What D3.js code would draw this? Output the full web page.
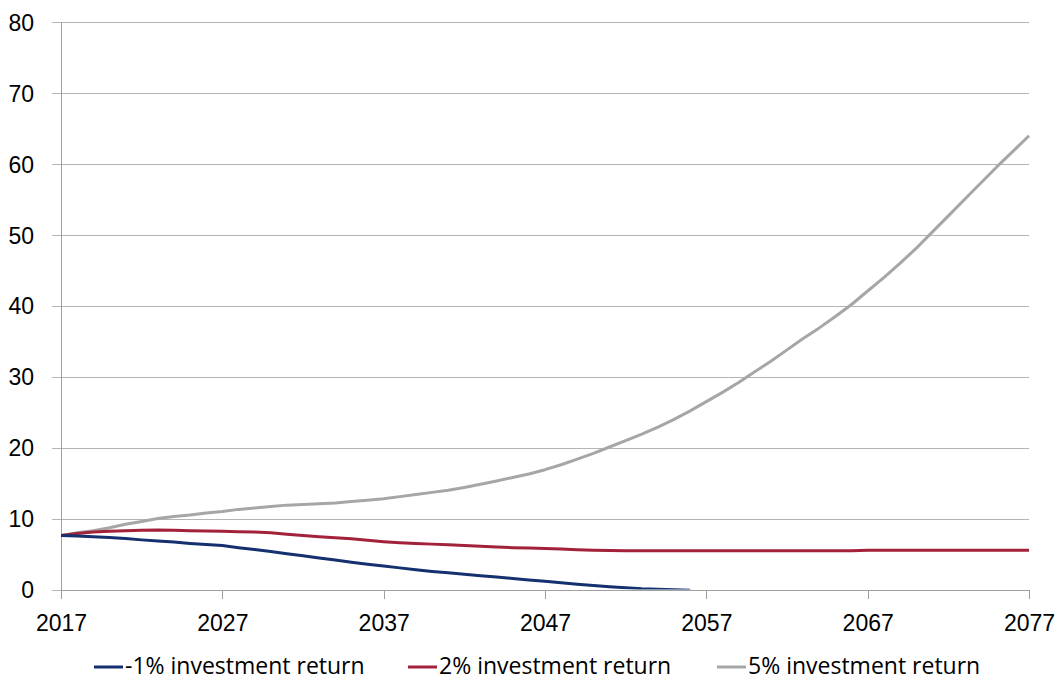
<!DOCTYPE html>
<html>
<head>
<meta charset="utf-8">
<script src="https://cdn.jsdelivr.net/npm/d3@7"></script>
<style>
  html, body { margin: 0; padding: 0; background: #ffffff; }
  svg { display: block; font-family: "Open Sans", "Noto Sans", sans-serif; }
</style>
</head>
<body>
<svg id="chart" width="1062" height="680"></svg>
<script>
// Projected fund balance under three investment-return scenarios, 2017–2077
const years = d3.range(2017, 2078);

const seriesNames = ["-1% investment return", "2% investment return", "5% investment return"];
const seriesColors = ["#14306e", "#a3213a", "#a6a6a6"];

// -1% return: falls steadily, reaching zero in the mid-2050s
const negOne = [
  7.6, 7.55, 7.45, 7.35, 7.2, 7.0, 6.85, 6.7, 6.5, 6.35,
  6.2, 5.9, 5.65, 5.35, 5.05, 4.75, 4.45, 4.15, 3.85, 3.55,
  3.3, 3.05, 2.8, 2.55, 2.35, 2.15, 1.95, 1.75, 1.55, 1.35,
  1.15, 0.95, 0.75, 0.55, 0.4, 0.25, 0.12, 0.05, -0.02, -0.12
];

// 2% return: roughly flat, drifting down to about 5.5
const twoPct = [
  7.6, 7.9, 8.1, 8.2, 8.3, 8.35, 8.4, 8.35, 8.3, 8.25,
  8.2, 8.15, 8.1, 8.0, 7.8, 7.6, 7.45, 7.3, 7.15, 6.95,
  6.75, 6.6, 6.5, 6.4, 6.3, 6.2, 6.1, 6.0, 5.9, 5.85,
  5.8, 5.7, 5.6, 5.55, 5.5, 5.48, 5.45, 5.45, 5.45, 5.45,
  5.45, 5.45, 5.45, 5.45, 5.45, 5.45, 5.45, 5.45, 5.45, 5.45,
  5.55, 5.55, 5.55, 5.55, 5.55, 5.55, 5.55, 5.55, 5.55, 5.55,
  5.55
];

// 5% return: compounding growth to about 64
const fivePct = [
  7.6, 8.0, 8.3, 8.7, 9.2, 9.6, 10.0, 10.3, 10.5, 10.8,
  11.0, 11.3, 11.5, 11.7, 11.9, 12.0, 12.1, 12.2, 12.4, 12.6,
  12.8, 13.1, 13.4, 13.7, 14.0, 14.4, 14.85, 15.3, 15.8, 16.3,
  16.9, 17.6, 18.4, 19.2, 20.1, 21.0, 21.9, 22.9, 24.0, 25.2,
  26.5, 27.8, 29.2, 30.7, 32.2, 33.8, 35.4, 36.9, 38.5, 40.2,
  42.1, 44.0, 46.0, 48.1, 50.4, 52.7, 55.0, 57.3, 59.6, 61.8,
  64.0
];

const xTicks = [2017, 2027, 2037, 2047, 2057, 2067, 2077];
const yTicks = [0, 10, 20, 30, 40, 50, 60, 70, 80];

const seriesValues = [negOne, twoPct, fivePct];

const svg = d3.select("#chart");
const plot = { left: 61, right: 1029, top: 22.3, bottom: 589.5 };

const x = d3.scaleLinear().domain([2017, 2077]).range([plot.left, plot.right]);
const y = d3.scaleLinear().domain([0, 80]).range([plot.bottom, plot.top]);

const gridColor = "#b4b4b4";
const axisColor = "#a0a0a0";
const textColor = "#000000";
const fontSize = "23px";

// Horizontal gridlines, extended left as tick marks
const yAxis = d3.axisLeft(y).tickValues(yTicks).tickSize(-(plot.right - plot.left)).tickSizeOuter(0).tickPadding(0);
const gy = svg.append("g").attr("transform", `translate(${plot.left},0)`).call(yAxis);
gy.select(".domain").remove();
gy.selectAll(".tick line")
  .attr("x1", -9)
  .attr("stroke", gridColor)
  .attr("stroke-width", 1)
  .attr("shape-rendering", "crispEdges");
gy.selectAll(".tick text")
  .attr("x", -27)
  .attr("dy", "0.35em")
  .attr("fill", textColor)
  .style("font-size", fontSize);

// Vertical axis line
svg.append("line")
  .attr("x1", plot.left).attr("x2", plot.left)
  .attr("y1", plot.top).attr("y2", plot.bottom + 9)
  .attr("stroke", axisColor).attr("stroke-width", 1)
  .attr("shape-rendering", "crispEdges");

// Horizontal axis with downward ticks
const xAxis = d3.axisBottom(x).tickValues(xTicks).tickFormat(d3.format("d")).tickSize(9).tickSizeOuter(0).tickPadding(16);
const gx = svg.append("g").attr("transform", `translate(0,${plot.bottom})`).call(xAxis);
gx.select(".domain").attr("stroke", axisColor).attr("shape-rendering", "crispEdges");
gx.selectAll(".tick line").attr("stroke", axisColor).attr("shape-rendering", "crispEdges");
gx.selectAll(".tick text")
  .attr("fill", textColor)
  .style("font-size", fontSize);

// Clip the series to the plotting area
svg.append("clipPath").attr("id", "plot-clip")
  .append("rect")
  .attr("x", plot.left).attr("y", plot.top - 5)
  .attr("width", plot.right - plot.left + 5)
  .attr("height", plot.bottom - plot.top + 5);

const line = d3.line()
  .x((d, i) => x(years[i]))
  .y(d => y(d))
  .curve(d3.curveLinear);

const lines = svg.append("g").attr("clip-path", "url(#plot-clip)");
// grey first, then red, then blue on top where they meet at the start
[2, 1, 0].forEach(k => {
  lines.append("path")
    .datum(seriesValues[k])
    .attr("fill", "none")
    .attr("stroke", seriesColors[k])
    .attr("stroke-width", 3)
    .attr("stroke-linejoin", "round")
    .attr("d", line);
});

// Legend
const legendItems = [
  { name: seriesNames[0], color: seriesColors[0], x0: 94 },
  { name: seriesNames[1], color: seriesColors[1], x0: 408 },
  { name: seriesNames[2], color: seriesColors[2], x0: 717 }
];
const legendY = 667;
const lg = svg.append("g");
legendItems.forEach(item => {
  lg.append("line")
    .attr("x1", item.x0).attr("x2", item.x0 + 29)
    .attr("y1", legendY).attr("y2", legendY)
    .attr("stroke", item.color).attr("stroke-width", 3);
  lg.append("text")
    .attr("x", item.x0 + 31)
    .attr("y", legendY + 7)
    .attr("fill", textColor)
    .style("font-size", fontSize)
    .text(item.name);
});
</script>
</body>
</html>
